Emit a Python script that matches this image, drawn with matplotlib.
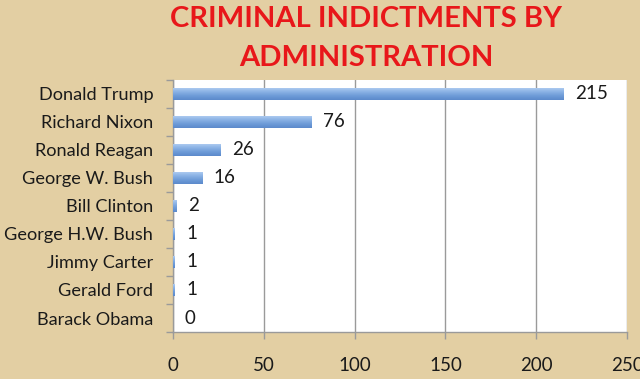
import matplotlib.pyplot as plt
import matplotlib.ticker as ticker
import numpy as np
from matplotlib.colors import LinearSegmentedColormap

# ── Data ───────────────────────────────────────────────────────────────────────
presidents = ["Donald Trump", "Richard Nixon", "Ronald Reagan", "George W. Bush",
              "Bill Clinton", "George H.W. Bush", "Jimmy Carter", "Gerald Ford",
              "Barack Obama"]
indictments = [215, 76, 26, 16, 2, 1, 1, 1, 0]
x_ticks = [0, 50, 100, 150, 200, 250]

BG = "#E3CFA3"
GRID = "#9A9A9A"
TITLE_RED = "#E8171A"
TEXT = "#1a1a1a"

# glossy bar: light top -> darker bottom
bar_cmap = LinearSegmentedColormap.from_list(
    "bar", ["#B4D0F2", "#8DB4E6", "#6E9CD8", "#5C8ACB"])

plt.rcParams["font.family"] = ["Lato", "DejaVu Sans"]

fig = plt.figure(figsize=(6.4, 3.79), dpi=100, facecolor=BG)
ax = fig.add_axes([0.270, 0.124, 0.710, 0.665])
ax.set_facecolor("white")

y = np.arange(len(presidents))
bars = ax.barh(y, indictments, height=0.45, color="#7FA8DD", linewidth=0, zorder=3)

grad = np.linspace(0, 1, 64).reshape(-1, 1)
for b in bars:
    if b.get_width() <= 0:
        continue
    x0, y0 = b.get_x(), b.get_y()
    im = ax.imshow(grad, cmap=bar_cmap, aspect="auto", zorder=4,
                   extent=(x0, x0 + b.get_width(), y0 + b.get_height(), y0),
                   interpolation="bilinear")
    im.set_clip_path(b)

for yi, v in zip(y, indictments):
    ax.text(v + 6.5, yi, str(v), va="center", ha="left", fontsize=13.5,
            color=TEXT, zorder=5)

ax.set_xlim(0, 250)
ax.set_ylim(len(presidents) - 0.5, -0.5)
ax.set_xticks(x_ticks)
ax.xaxis.grid(True, color=GRID, linewidth=1.0, zorder=1)
ax.set_axisbelow(True)

ax.set_yticks(y)
ax.set_yticklabels(presidents, fontsize=13.1, color=TEXT)
ax.yaxis.set_minor_locator(ticker.FixedLocator(np.arange(-0.5, len(presidents), 1)))
ax.tick_params(axis="y", which="major", length=0, pad=14)
ax.tick_params(axis="y", which="minor", length=5, color=GRID, width=1)
ax.tick_params(axis="x", length=5, color=GRID, width=1, labelsize=13.5,
               labelcolor=TEXT, pad=13)

for side in ("top", "right"):
    ax.spines[side].set_visible(False)
for side in ("left", "bottom"):
    ax.spines[side].set_color(GRID)
    ax.spines[side].set_linewidth(1.0)

fig.text(0.572, 0.951, "CRIMINAL INDICTMENTS BY", ha="center", va="center",
         fontsize=21, fontweight="bold", color=TITLE_RED)
fig.text(0.572, 0.846, "ADMINISTRATION", ha="center", va="center",
         fontsize=21, fontweight="bold", color=TITLE_RED)

fig.savefig("out.png", dpi=100, facecolor=BG)
